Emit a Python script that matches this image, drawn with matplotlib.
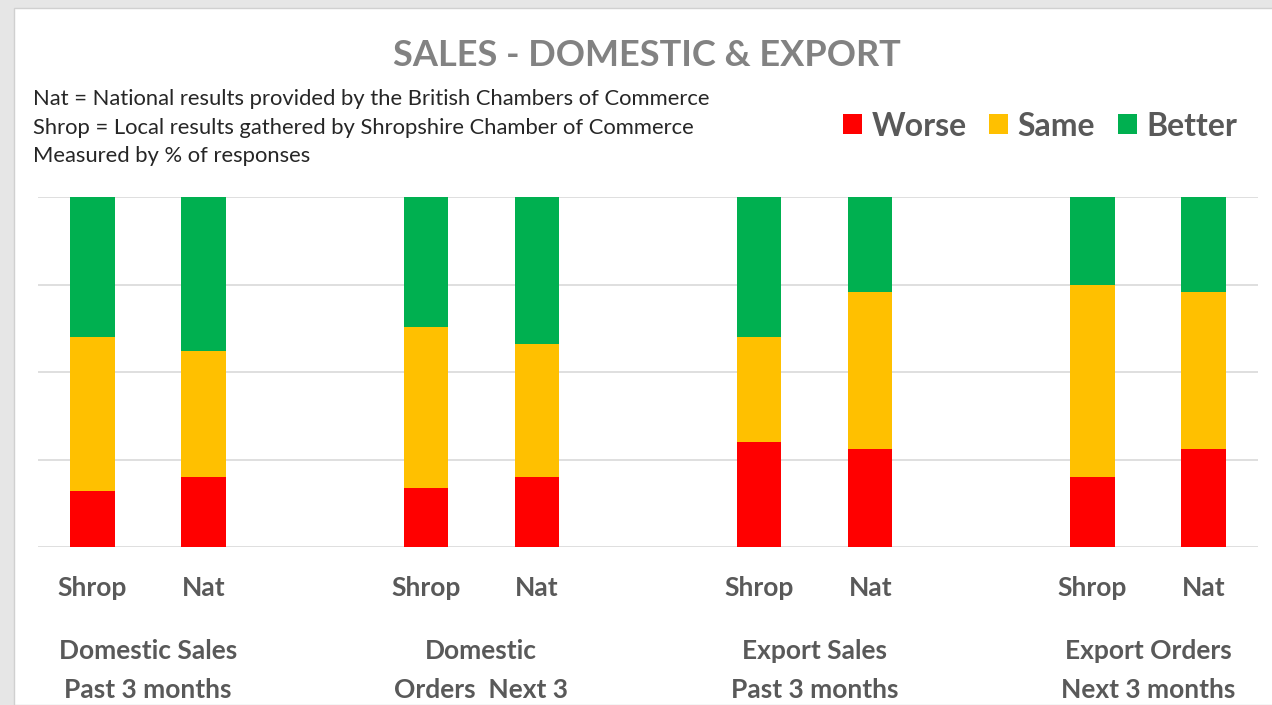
import matplotlib
matplotlib.use("Agg")
import matplotlib.pyplot as plt
from matplotlib.patches import Rectangle

# ---- data ----
bar_labels = ["Shrop", "Nat", "Shrop", "Nat", "Shrop", "Nat", "Shrop", "Nat"]
group_labels = ["Domestic Sales\nPast 3 months", "Domestic\nOrders  Next 3",
                "Export Sales\nPast 3 months", "Export Orders\nNext 3 months"]
worse = [16, 20, 17, 20, 30, 28, 20, 28]
same = [44, 36, 46, 38, 30, 45, 55, 45]
better = [40, 44, 37, 42, 40, 27, 25, 27]
series_names = ["Worse", "Same", "Better"]
colors = ["#FF0000", "#FFC000", "#00B050"]
title = "SALES - DOMESTIC & EXPORT"
notes = ["Nat = National results provided by the British Chambers of Commerce",
         "Shrop = Local results gathered by Shropshire Chamber of Commerce",
         "Measured by % of responses"]

plt.rcParams['font.family'] = ['Lato', 'DejaVu Sans']

W, H = 1272, 705
fig = plt.figure(figsize=(W / 100, H / 100), dpi=100)
fig.patch.set_facecolor("#E6E6E6")
# white chart area with thin border
bg = Rectangle((14 / W, 0), 1, 1 - 8 / H, transform=fig.transFigure,
               facecolor="white", edgecolor="#D0D0D0", lw=1.0, zorder=-10)
fig.patches.append(bg)

ax = fig.add_axes([38 / W, 1 - 547 / H, (1258 - 38) / W, (547 - 197) / H])
ax.set_facecolor("none")
ax.set_zorder(5)

# positions: pairs with a blank slot between groups
positions = []
for g in range(4):
    positions += [g * 3, g * 3 + 1]

bottom2 = [w + s for w, s in zip(worse, same)]
ax.bar(positions, worse, width=0.4, color=colors[0], label=series_names[0], zorder=3)
ax.bar(positions, same, width=0.4, bottom=worse, color=colors[1], label=series_names[1], zorder=3)
ax.bar(positions, better, width=0.4, bottom=bottom2, color=colors[2], label=series_names[2], zorder=3)

ax.set_xlim(-0.49, 10.49)
ax.set_ylim(0, 100)
ax.set_yticks([0, 25, 50, 75, 100])
ax.yaxis.grid(True, color="#D9D9D9", lw=1.2, zorder=0)
ax.tick_params(axis='y', left=False, labelleft=False)
ax.tick_params(axis='x', bottom=False, length=0, pad=21)
ax.set_xticks(positions)
ax.set_xticklabels(bar_labels, fontsize=19, color="#595959", fontweight='bold')
for s in ax.spines.values():
    s.set_visible(False)

# group labels below the bar labels
for g, lab in enumerate(group_labels):
    cx = g * 3 + 0.5
    ax.text(cx, -0.262, lab, transform=ax.get_xaxis_transform(), ha='center', va='top',
            fontsize=19, color="#595959", fontweight='bold', linespacing=1.75)

fig.text(647 / W, 1 - 55 / H, title, ha='center', va='center', fontsize=26,
         color="#828282", fontweight='bold')

for i, line in enumerate(notes):
    fig.text(33 / W, 1 - (99 + i * 28.5) / H, line, ha='left', va='center',
             fontsize=15.8, color="#262626")

leg = fig.legend(loc='center right', bbox_to_anchor=(1250 / W, 1 - 126 / H), ncol=3,
                 frameon=False, fontsize=23, handlelength=0.6, handleheight=0.6,
                 handletextpad=0.3, columnspacing=0.7, borderaxespad=0)
for t in leg.get_texts():
    t.set_color("#595959")
    t.set_fontweight('bold')

fig.savefig("out.png", dpi=100)
